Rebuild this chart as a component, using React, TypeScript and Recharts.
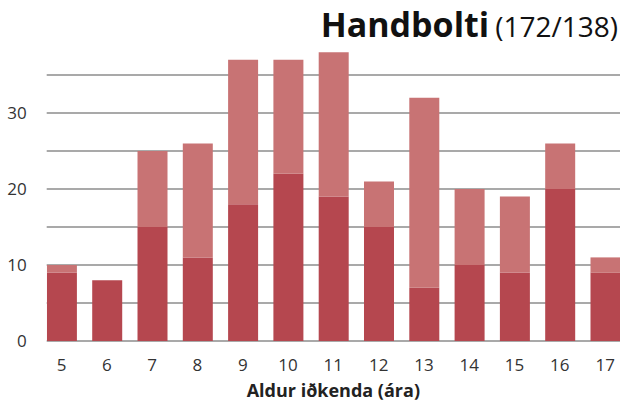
import { BarChart, Bar, XAxis, YAxis, CartesianGrid } from "recharts";

const AGES = [5, 6, 7, 8, 9, 10, 11, 12, 13, 14, 15, 16, 17];
const DARK = [9, 8, 15, 11, 18, 22, 19, 15, 7, 10, 9, 20, 9];
const LIGHT = [1, 0, 10, 15, 19, 15, 19, 6, 25, 10, 10, 6, 2];
const Y_TICKS = [0, 5, 10, 15, 20, 25, 30, 35];
const Y_MAX = 40;

const FONT = "'Open Sans', 'Noto Sans', sans-serif";
const COL_DARK = "#b5474f";
const COL_LIGHT = "#c87374";

const data = AGES.map((age, i) => ({ age, dark: DARK[i], light: LIGHT[i] }));

// grid only at the tick values (no line at the domain top)
const gridRows = ({ offset }: any) =>
  Y_TICKS.map((t) => offset.top + offset.height * (1 - t / Y_MAX));

export default function App() {
  return (
    <div style={{ position: "absolute", left: 0, top: 0, width: 635, height: 403, background: "#fff" }}>
      <BarChart
        width={635}
        height={403}
        data={data}
        margin={{ top: 37, right: 15, bottom: 0, left: 0 }}
      >
        <CartesianGrid
          vertical={false}
          stroke="#8c8c8c"
          strokeWidth={1.4}
          horizontalCoordinatesGenerator={gridRows}
        />
        <XAxis
          dataKey="age"
          type="number"
          domain={[4.672, 17.328]}
          ticks={AGES}
          interval={0}
          allowDataOverflow
          axisLine={false}
          tickLine={false}
          tickMargin={12}
          height={62}
          tick={{ fontSize: 17, fill: "#333", fontFamily: FONT }}
          label={{
            value: "Aldur iðkenda (ára)",
            position: "insideBottom",
            offset: 6,
            style: { fontSize: 18, fontWeight: 700, fill: "#222", fontFamily: FONT },
          }}
        />
        <YAxis
          domain={[0, Y_MAX]}
          ticks={Y_TICKS}
          width={46.7}
          axisLine={false}
          tickLine={false}
          tickMargin={14}
          tickFormatter={(v: number) => (v % 10 === 0 ? String(v) : "")}
          tick={{ fontSize: 17, fill: "#333", fontFamily: FONT }}
        />
        <Bar dataKey="dark" stackId="a" fill={COL_DARK} barSize={30} isAnimationActive={false} />
        <Bar dataKey="light" stackId="a" fill={COL_LIGHT} barSize={30} isAnimationActive={false} />
      </BarChart>
      <svg width={635} height={60} style={{ position: "absolute", left: 0, top: 0 }}>
        <text x={618} y={37} textAnchor="end" fontFamily={FONT} fill="#111">
          <tspan fontSize={34} fontWeight={700}>Handbolti</tspan>
          <tspan fontSize={28} dx={6}>(172/138)</tspan>
        </text>
      </svg>
    </div>
  );
}
